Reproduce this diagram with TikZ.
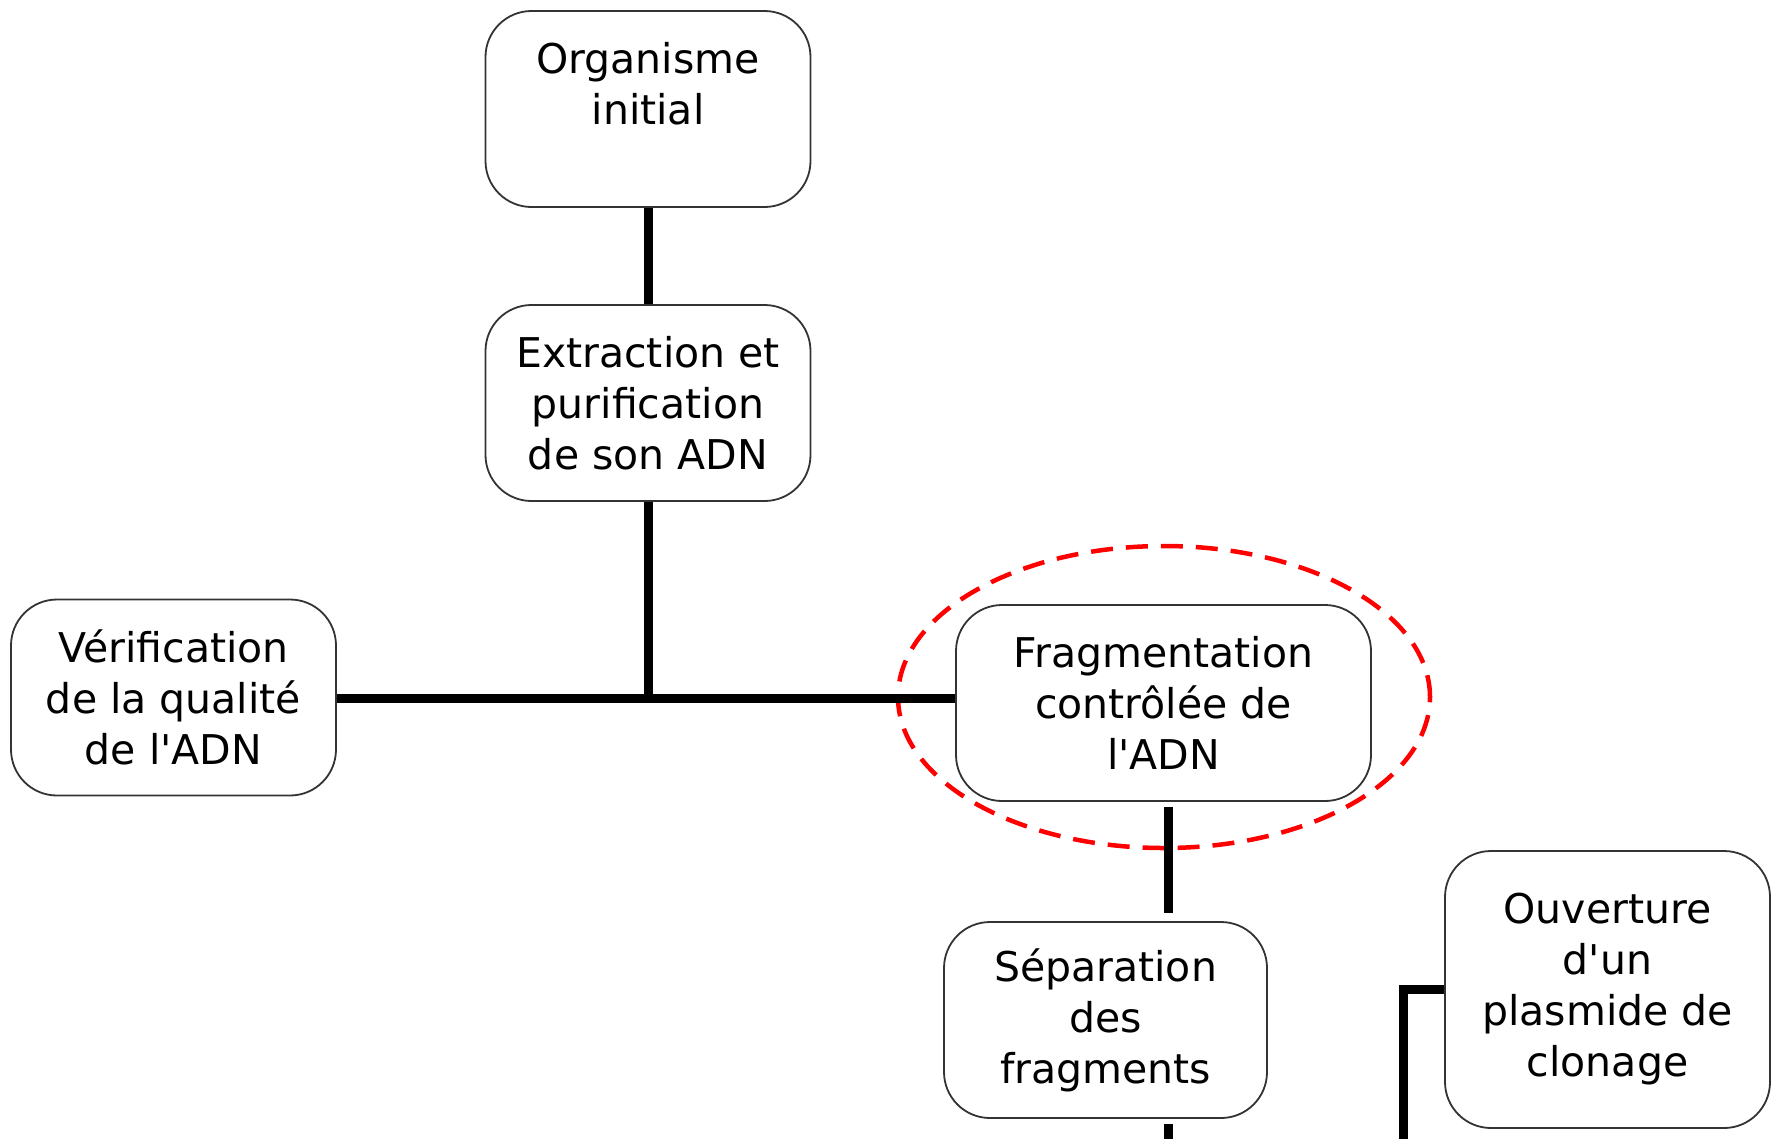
\documentclass[tikz,border=0pt]{standalone}
\usepackage{fontspec}
\setmainfont{DejaVu Sans}
\newcommand{\aq}{\textquotesingle}
\begin{document}
\begin{tikzpicture}[x=1pt,y=-1pt,
  box/.style={draw=black!80, line width=1.8pt, rounded corners=46pt, fill=white,
    align=center, inner sep=0pt, minimum height=196pt,
    font=\fontsize{41}{51}\selectfont},
  conn/.style={line width=9pt, black},
  redring/.style={draw=red, line width=4.5pt, dash pattern=on 22pt off 13pt}]
\useasboundingbox (0,0) rectangle (1774,1138);
% ring behind
\coordinate (rc) at (1164,697);
\draw[redring] (rc) ellipse [x radius=266pt, y radius=151pt];
% nodes
\node[box, minimum width=325pt] (org) at (648,109) {Organisme\\initial\\\phantom{x}};
\node[box, minimum width=325pt] (ext) at (648,403) {Extraction et\\purification\\de son ADN};
\node[box, minimum width=325pt] (ver) at (173.5,697.5) {Vérification\\de la qualité\\de l\aq ADN};
\node[box, minimum width=415pt] (frag) at (1163.5,703) {Fragmentation\\contrôlée de\\l\aq ADN};
\node[box, minimum width=323pt] (sep) at (1105.5,1020) {Séparation\\des\\fragments};
\node[box, minimum width=325pt, minimum height=277pt] (ouv) at (1607.5,989.5)
  {\raisebox{13pt}{\begin{tabular}{@{}c@{}}Ouverture\\d\aq un\\plasmide de\\clonage\end{tabular}}};
% connectors
\coordinate (j) at (648,698);
\coordinate (fx) at (1168,0);
\coordinate (bot) at (0,1146);
\coordinate (ox) at (1403,0);
\draw[conn] (org.south) -- (ext.north);
\draw[conn] (ext.south) -- ([yshift=-4.5pt]j);
\draw[conn] (ver.east |- j) -- (frag.west |- j);
\draw[conn] ([yshift=-5pt]frag.south -| fx) -- ([yshift=8pt]sep.north -| fx);
\draw[conn] ([yshift=-5pt]sep.south -| fx) -- (bot -| fx);
\draw[conn] (ouv.west) -| (bot -| ox);
\end{tikzpicture}
\end{document}
